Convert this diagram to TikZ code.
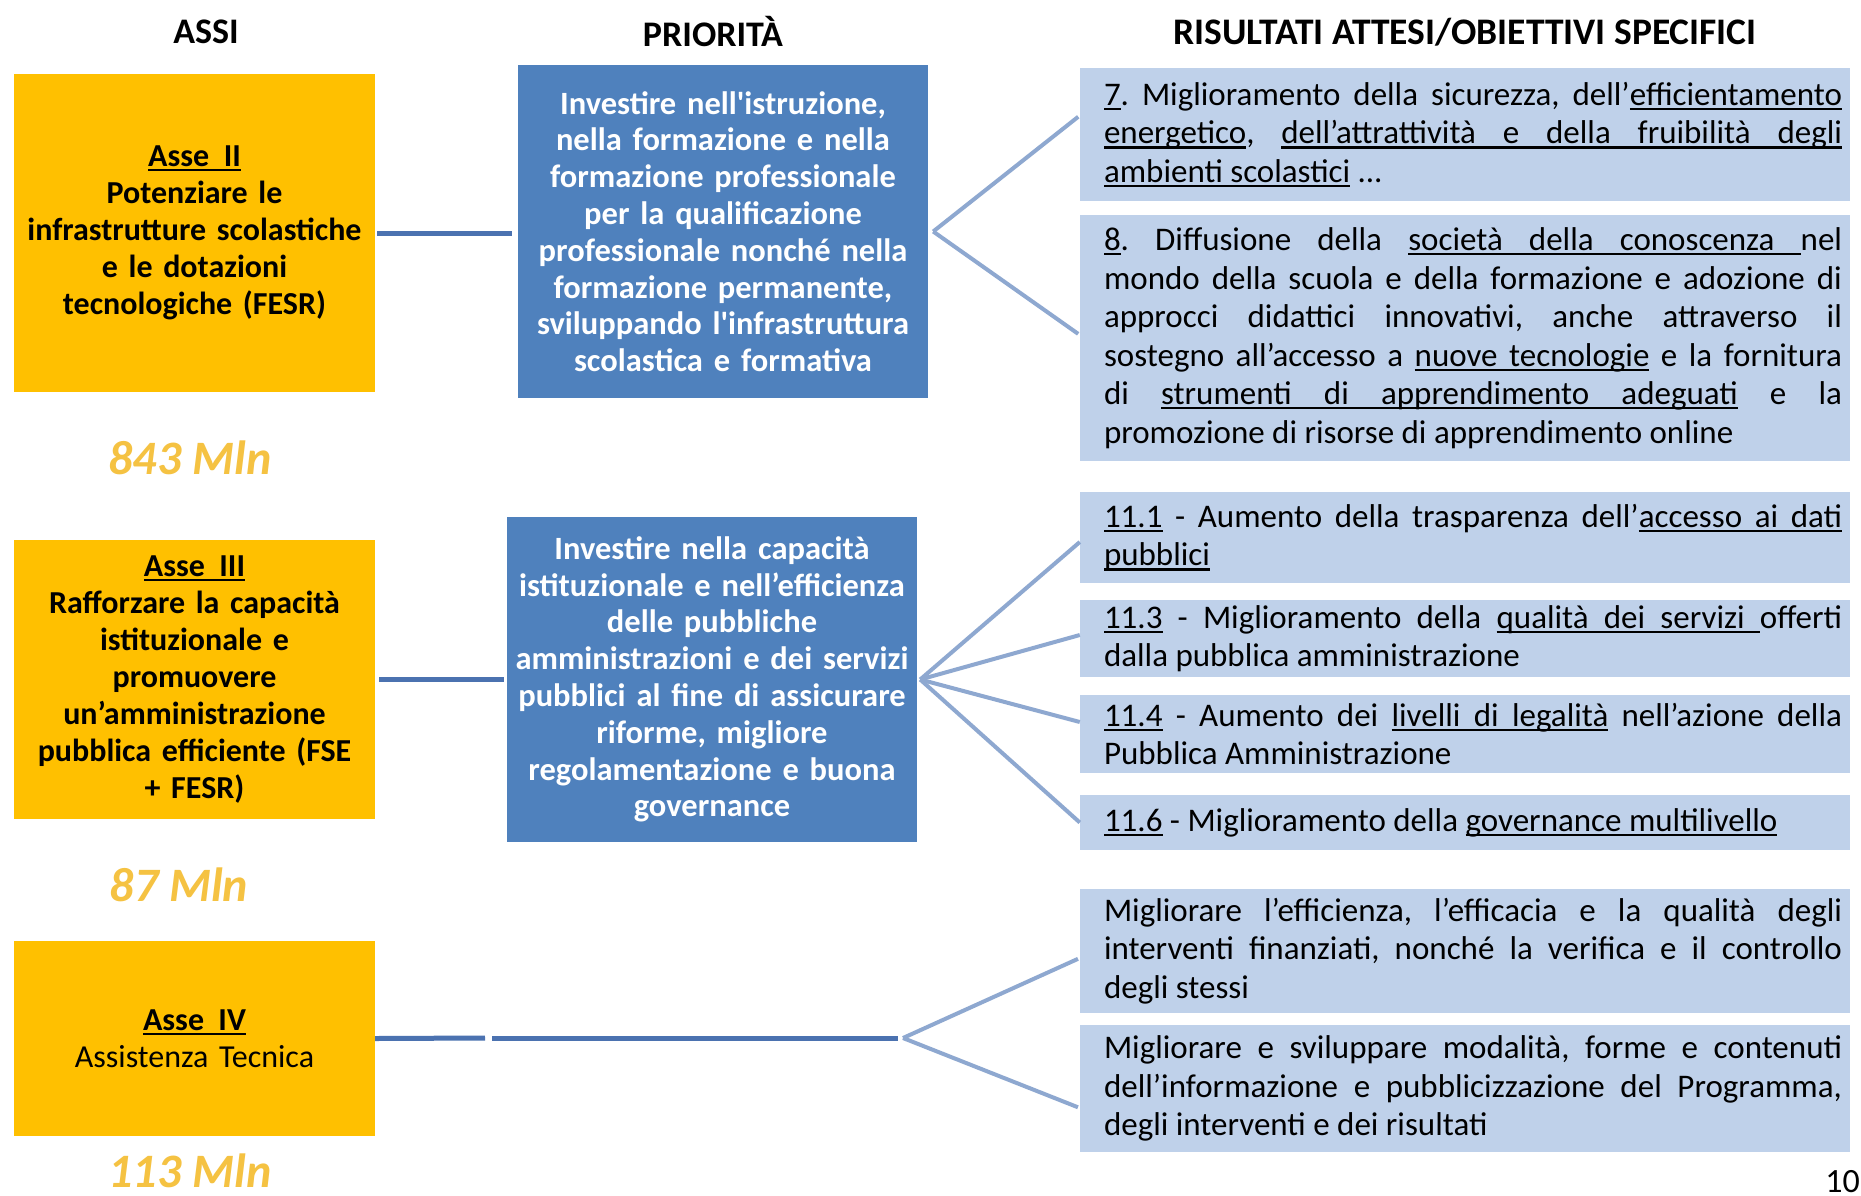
\documentclass[tikz,border=0pt]{standalone}
\usepackage{fontspec}
\setmainfont{Carlito}
\usetikzlibrary{calc}
\frenchspacing
\definecolor{yel}{HTML}{FFC000}
\definecolor{pblue}{HTML}{4F81BD}
\definecolor{rblue}{HTML}{BFD1EA}
\definecolor{mlncol}{HTML}{F5C242}
\definecolor{hcol}{HTML}{4B72B0}
\definecolor{fcol}{HTML}{8EA8D0}
% simple stretchable underline
\newcommand\myulword[1]{\leavevmode\setbox0\hbox{#1}\rlap{\vrule height -2.5pt depth 4.8pt width \wd0\relax}\box0\relax}
\def\myulspace{\leaders\hrule height -2.5pt depth 4.8pt\hskip\fontdimen2\font plus \fontdimen3\font minus \fontdimen4\font\relax}
\def\myul#1{\leavevmode\myulloop#1 \myulstop}
\def\myulloop#1 #2\myulstop{\myulword{#1}\ifx\relax#2\relax\else\myulspace\myulloop#2\myulstop\fi}
% justified text block for the result boxes
\newcommand\rtext[1]{\hspace*{16pt}\parbox{738pt}{\fontsize{33}{38.5}\selectfont\frenchspacing\hyphenpenalty=10000\relax\leavevmode #1}}
\begin{document}
\begin{tikzpicture}[x=1pt,y=-1pt,
  titlestyle/.style={font=\fontsize{36}{40}\selectfont\bfseries, inner sep=0pt},
  ybox/.style={fill=yel, minimum width=361pt, text width=355pt, align=center, inner sep=0pt,
    font=\fontsize{32}{37}\selectfont\bfseries},
  pbox/.style={fill=pblue, text=white, minimum width=410pt, text width=404pt, align=center, inner sep=0pt,
    font=\fontsize{32.5}{36.8}\selectfont\bfseries},
  rbox/.style={fill=rblue, minimum width=770pt, inner sep=0pt},
  mln/.style={text=mlncol, font=\fontsize{48}{52}\selectfont\bfseries\itshape, inner sep=0pt},
  hline/.style={draw=hcol, line width=5pt},
  fline/.style={draw=fcol, line width=4pt}
]
\useasboundingbox (0,0) rectangle (1861,1195);
\fill[white] (0,0) rectangle (1861,1195);

% titles
\node[titlestyle] (tA) at (206,32) {ASSI};
\node[titlestyle] (tP) at (713,32) {PRIORITÀ};
\node[titlestyle, font=\fontsize{37.5}{40}\selectfont\bfseries] (tR) at (1465,32) {RISULTATI ATTESI/OBIETTIVI SPECIFICI};

% assi
\node[ybox, minimum height=318pt] (a2) at (194.5,233)
  {\myul{Asse II}\\Potenziare le\\infrastrutture scolastiche\\e le dotazioni\\tecnologiche (FESR)};
\node[ybox, minimum height=279pt] (a3) at (194.5,679.5)
  {\myul{Asse III}\\Rafforzare la capacità\\istituzionale e\\promuovere\\un’amministrazione\\pubblica efficiente (FSE\\+ FESR)};
\node[ybox, minimum height=195pt] (a4) at (194.5,1038.5)
  {\myul{Asse IV}\\\mdseries Assistenza Tecnica};

\node[mln] (m2) at (190,458) {843 Mln};
\node[mln] (m3) at (179,885) {87 Mln};
\node[mln] (m4) at (190,1171) {113 Mln};

% priorita
\node[pbox, minimum height=333pt] (p2) at (723,231.5)
  {Investire nell\textquotesingle istruzione,\\nella formazione e nella\\formazione professionale\\per la qualificazione\\professionale nonché nella\\formazione permanente,\\sviluppando l\textquotesingle infrastruttura\\scolastica e formativa};
\node[pbox, minimum height=325pt] (p3) at (712,679.5)
  {Investire nella capacità\\istituzionale e nell’efficienza\\delle pubbliche\\amministrazioni e dei servizi\\pubblici al fine di assicurare\\riforme, migliore\\regolamentazione e buona\\governance};

% risultati
\node[rbox, minimum height=133pt] (r7) at (1465,134.5)
  {\rtext{\myul{7}. Miglioramento della sicurezza, dell’\myul{efficientamento}\linebreak
   \myul{energetico}, \myul{dell’attrattività e della fruibilità degli}\linebreak
   \myul{ambienti scolastici} ...}};
\node[rbox, minimum height=246pt] (r8) at (1465,338)
  {\rtext{\myul{8}. Diffusione della \myul{società della conoscenza }nel\linebreak
   mondo della scuola e della formazione e adozione di\linebreak
   approcci didattici innovativi, anche attraverso il\linebreak
   sostegno all’accesso a \myul{nuove tecnologie} e la fornitura\linebreak
   di \myul{strumenti di apprendimento adeguati} e la\linebreak
   promozione di risorse di apprendimento online}};
\node[rbox, minimum height=91pt] (r11a) at (1465,537.5)
  {\rtext{\myul{11.1} - Aumento della trasparenza dell’\myul{accesso ai dati}\linebreak
   \myul{pubblici}}};
\node[rbox, minimum height=77pt] (r11c) at (1465,638.5)
  {\rtext{\myul{11.3} - Miglioramento della \myul{qualità dei servizi }offerti\linebreak
   dalla pubblica amministrazione}};
\node[rbox, minimum height=78pt] (r11d) at (1465,734)
  {\rtext{\myul{11.4} - Aumento dei \myul{livelli di legalità} nell’azione della\linebreak
   Pubblica Amministrazione}};
\node[rbox, minimum height=55pt] (r11f) at (1465,822.5)
  {\rtext{\myul{11.6} - Miglioramento della \myul{governance multilivello}}};
\node[rbox, minimum height=124pt] (rA) at (1465,951)
  {\rtext{Migliorare l’efficienza, l’efficacia e la qualità degli\linebreak
   interventi finanziati, nonché la verifica e il controllo\linebreak
   degli stessi}};
\node[rbox, minimum height=127pt] (rB) at (1465,1088.5)
  {\rtext{Migliorare e sviluppare modalità, forme e contenuti\linebreak
   dell’informazione e pubblicizzazione del Programma,\linebreak
   degli interventi e dei risultati}};

\node[anchor=north east, inner sep=0pt, font=\fontsize{34}{40}\selectfont] (pg) at (1860,1170) {10};

% connectors
\draw[hline, shorten <=2pt, shorten >=6pt] (a2.east) -- (a2.east -| p2.west);
\draw[hline, shorten <=4pt, shorten >=3pt] (a3.east) -- (a3.east -| p3.west);

\coordinate (f1) at ($(p2.east)+(5,0)$);
\draw[fline, shorten >=2pt] (f1) -- ([yshift=19pt]r7.west);
\draw[fline, shorten >=2pt] (f1) -- ([yshift=3pt]r8.west);

\coordinate (f2) at ($(p3.east)+(3,0)$);
\draw[fline] (f2) -- ([yshift=-4.5pt]r11a.west);
\draw[fline] (f2) -- ([yshift=3.5pt]r11c.west);
\draw[fline] (f2) -- ([yshift=12pt]r11d.west);
\draw[fline] (f2) -- (r11f.west);

\coordinate (f3) at (903,1038);
\coordinate (g1) at (485,1038);
\coordinate (g2) at (492,1038);
\draw[hline] (a4.east) -- (g1);
\draw[hline] (g2) -- ([xshift=-5pt]f3);
\draw[fline, shorten >=2pt] (f3) -- ([yshift=-7pt]rA.west);
\draw[fline, shorten >=2pt] (f3) -- ([yshift=-19.5pt]rB.west);
\end{tikzpicture}
\end{document}
